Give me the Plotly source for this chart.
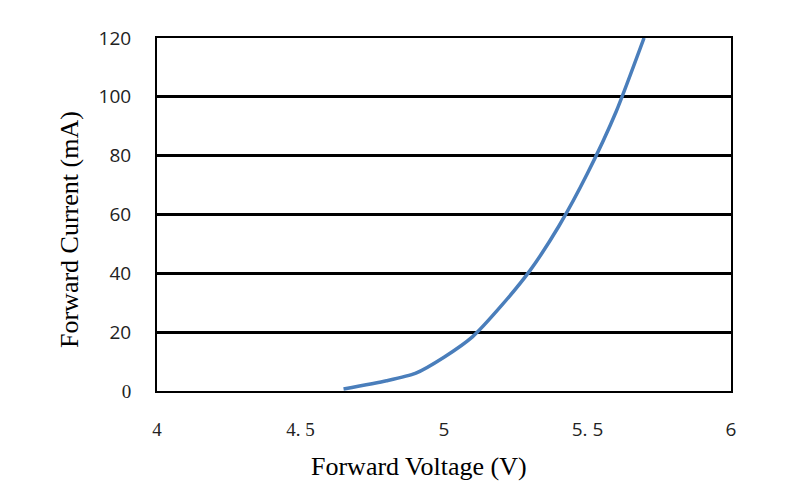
import plotly.graph_objects as go

voltage = [4.65, 4.8, 4.9, 5.0, 5.1, 5.2, 5.3, 5.4, 5.5, 5.6, 5.697]
current = [0.7, 3.5, 6.0, 11.5, 18.5, 29.0, 41.0, 56.0, 74.0, 95.0, 120.0]

x_ticks = [4, 4.5, 5, 5.5, 6]
x_labels = ['<span style="font-family:Liberation Serif">4</span>',
            '<span style="font-family:Liberation Serif">4. 5</span>',
            '5', '5. 5', '6']
y_ticks = [0, 20, 40, 60, 80, 100, 120]
y_labels = ['<span style="font-family:Liberation Serif">0</span>',
            '20', '40', '60', '80', '100', '120']

fig = go.Figure()
fig.add_trace(go.Scatter(x=voltage, y=current, mode="lines",
                         line=dict(color="#4a7ebb", width=3.5, shape="spline", smoothing=0.6),
                         showlegend=False))

fig.update_layout(
    width=800, height=491,
    margin=dict(l=157, r=69, t=38, b=100),
    paper_bgcolor="white", plot_bgcolor="white",
    font=dict(family="Open Sans, Liberation Sans, sans-serif", size=17, color="black"),
    annotations=[
        dict(text="Forward Voltage (V)", xref="paper", yref="paper",
             x=(419 - 157) / 574, y=-(466 - 391) / 353, xanchor="center", yanchor="middle",
             showarrow=False, font=dict(family="Liberation Serif", size=26, color="black")),
        dict(text="Forward Current (mA)", xref="paper", yref="paper",
             x=-(157 - 69) / 574, y=(391 - 230) / 353, xanchor="center", yanchor="middle",
             textangle=-90, showarrow=False,
             font=dict(family="Liberation Serif", size=26, color="black")),
    ],
)
fig.update_xaxes(range=[4, 6], tickvals=x_ticks, ticktext=x_labels,
                 tickfont=dict(size=19, color="#222"),
                 showgrid=False, zeroline=False,
                 showline=True, linecolor="black", linewidth=2, mirror=True,
                 ticks="", ticklabelstandoff=20)
fig.update_yaxes(range=[0, 120], tickvals=y_ticks, ticktext=y_labels,
                 tickfont=dict(size=19, color="#222"),
                 showgrid=True, gridcolor="black", gridwidth=2.5, zeroline=False,
                 showline=True, linecolor="black", linewidth=2, mirror=True,
                 ticks="", ticklabelstandoff=20)

fig.write_html("out.html")
